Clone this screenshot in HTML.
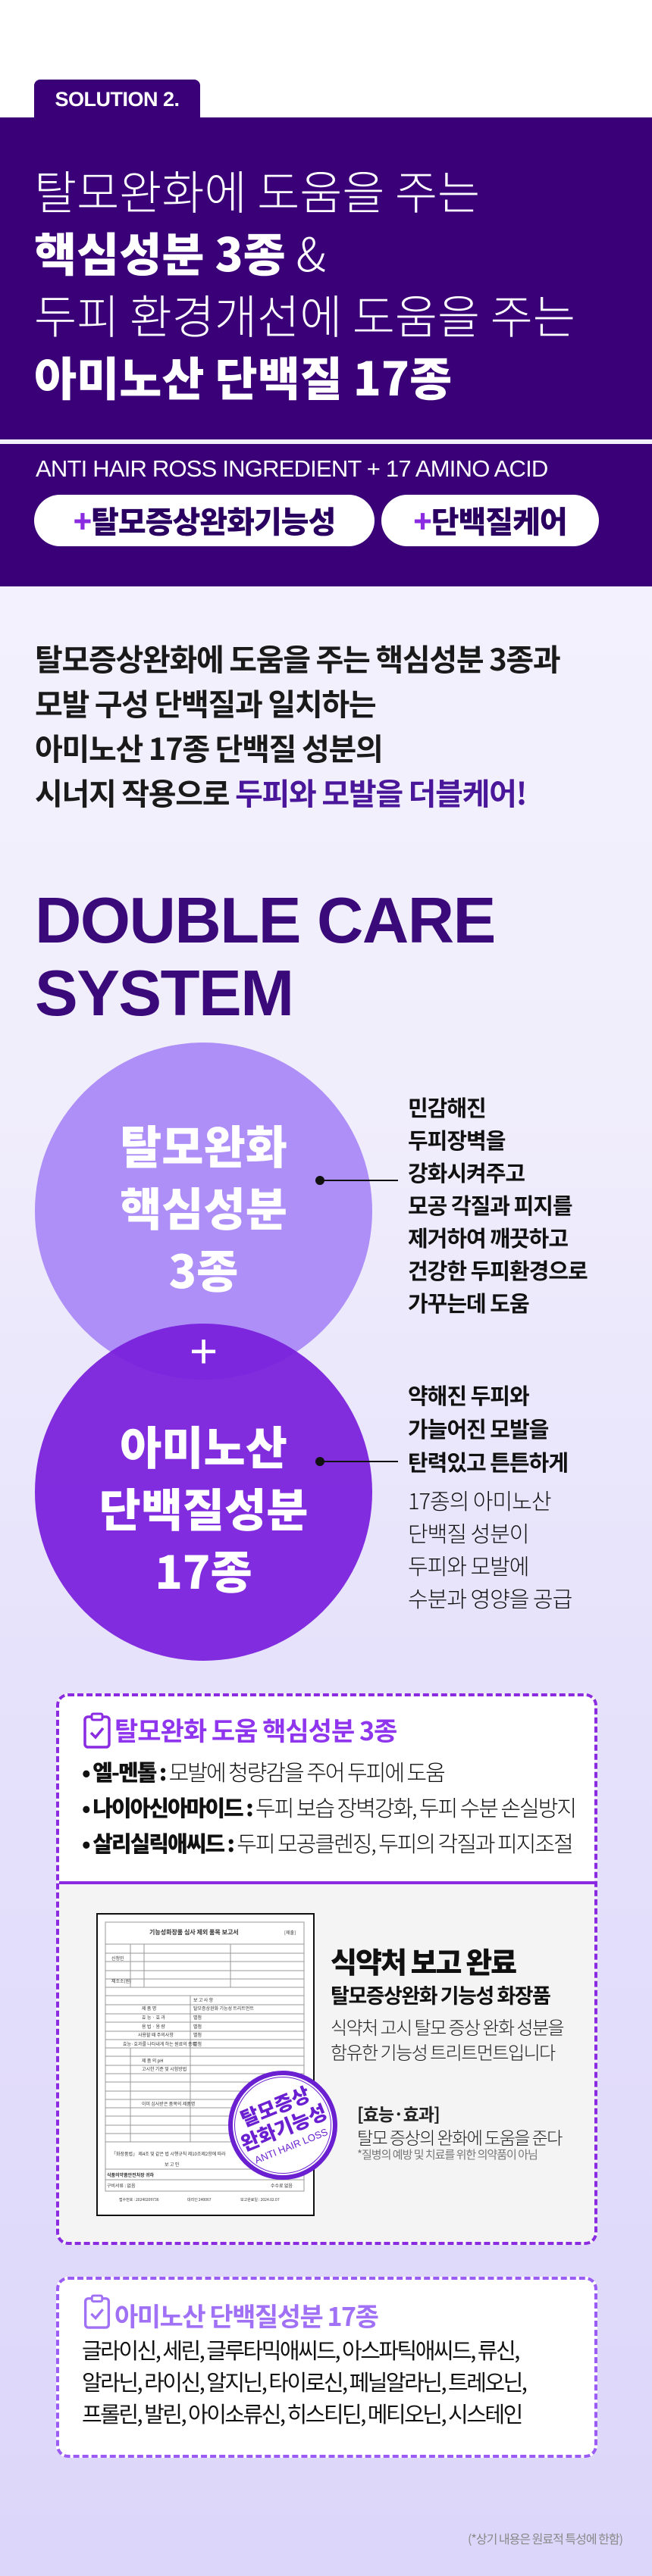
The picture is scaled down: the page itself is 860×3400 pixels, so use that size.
<!DOCTYPE html>
<html><head><meta charset="utf-8">
<style>
*{margin:0;padding:0;box-sizing:border-box}
body{width:860px;height:3400px;position:relative;overflow:hidden;font-family:"Liberation Sans","Noto Sans CJK KR",sans-serif;background:linear-gradient(180deg,#fff 0,#fff 155px,#f3f1fd 780px,#f1eefc 1400px,#e6e2fb 2200px,#dcd6fa 3400px)}
.a{position:absolute;white-space:nowrap}
.k{font-family:"Noto Sans CJK KR",sans-serif}
.band{left:0;top:155px;width:860px;height:619px;background:#3a0077}
.tab{left:45px;top:105px;width:219px;height:51px;background:#3a0077;border-radius:8px 8px 0 0;color:#fff;font-size:27px;font-weight:bold;line-height:53px;text-align:center;letter-spacing:-0.5px}
.h{left:45px;color:#fff;font-size:61px;line-height:82px;letter-spacing:0px}
.pill{top:653px;height:68px;background:#fff;border-radius:34px;color:#2a0060;font-size:40px;font-weight:900;line-height:66px;text-align:center;letter-spacing:-1px}
.pill b{color:#8a2be2}
.p{left:46px;font-size:40px;font-weight:bold;color:#1a1a1a;letter-spacing:-1.3px;line-height:59px}
.c{border-radius:50%;width:445px;height:445px;left:46px}
.ct{left:46px;width:445px;text-align:center;color:#fff;font-size:60px;font-weight:900;line-height:82px}
.r{left:538px;font-size:29px;color:#111;letter-spacing:-1px;line-height:43px}
.box{left:74px;width:714px;border:4px dashed #8a2be2;border-radius:16px}
</style></head><body>
<div class="a tab">SOLUTION 2.</div>
<div class="a band"></div>
<div class="a h k" style="top:209px;font-weight:300">탈모완화에 도움을 주는</div>
<div class="a h k" style="top:291px;font-weight:900">핵심성분 3종<span style="font-weight:300"> &amp;</span></div>
<div class="a h k" style="top:373px;font-weight:300">두피 환경개선에 도움을 주는</div>
<div class="a h k" style="top:455px;font-weight:900">아미노산 단백질 17종</div>
<div class="a" style="left:0;top:580px;width:860px;height:6px;background:#f2eefc"></div>
<div class="a" style="left:47px;top:601px;color:#fff;font-size:31px;font-weight:300;letter-spacing:-0.8px">ANTI HAIR ROSS INGREDIENT + 17 AMINO ACID</div>
<div class="a pill k" style="left:45px;width:449px"><b>+</b>탈모증상완화기능성</div>
<div class="a pill k" style="left:503px;width:287px"><b>+</b>단백질케어</div>

<div class="a p k" style="top:839px">탈모증상완화에 도움을 주는 핵심성분 3종과</div>
<div class="a p k" style="top:898px">모발 구성 단백질과 일치하는</div>
<div class="a p k" style="top:957px">아미노산 17종 단백질 성분의</div>
<div class="a p k" style="top:1016px">시너지 작용으로 <span style="color:#4a169a">두피와 모발을 더블케어!</span></div>

<div class="a" style="left:46px;top:1168px;font-size:85px;font-weight:bold;color:#3a0a7a;line-height:96px;letter-spacing:-1.5px">DOUBLE CARE<br>SYSTEM</div>

<div class="a c" style="top:1376px;background:#ae8ff7"></div>
<div class="a c" style="top:1747px;background:rgba(120,30,220,.93)"></div>
<div class="a ct k" style="top:1470px">탈모완화<br>핵심성분<br>3종</div>
<div class="a ct" style="top:1745px;font-weight:normal;font-size:64px;line-height:76px">+</div>
<div class="a ct k" style="top:1867px">아미노산<br>단백질성분<br>17종</div>

<div class="a" style="left:416px;top:1552px;width:12px;height:12px;border-radius:50%;background:#111"></div>
<div class="a" style="left:422px;top:1557px;width:103px;height:2px;background:#111"></div>
<div class="a" style="left:416px;top:1923px;width:12px;height:12px;border-radius:50%;background:#111"></div>
<div class="a" style="left:422px;top:1928px;width:103px;height:2px;background:#111"></div>

<div class="a r k" style="top:1440px;font-weight:bold">민감해진<br>두피장벽을<br>강화시켜주고<br>모공 각질과 피지를<br>제거하여 깨끗하고<br>건강한 두피환경으로<br>가꾸는데 도움</div>
<div class="a r k" style="top:1819px;font-weight:bold;line-height:44px">약해진 두피와<br>가늘어진 모발을<br>탄력있고 튼튼하게</div>
<div class="a r k" style="top:1959px;font-weight:300">17종의 아미노산<br>단백질 성분이<br>두피와 모발에<br>수분과 영양을 공급</div>

<div class="a box" style="top:2235px;height:728px;background:#f4f4f4;overflow:hidden">
 <div style="position:absolute;left:0;top:0;width:100%;height:248px;background:#fff;border-bottom:4px solid #8a2be2"></div>
</div>
<svg class="a" style="left:110px;top:2260px" width="36" height="48" viewBox="0 0 36 48"><rect x="2" y="6" width="32" height="40" rx="4" fill="none" stroke="#8a2be2" stroke-width="3.5"/><rect x="11" y="2" width="14" height="8" rx="2" fill="#fff" stroke="#8a2be2" stroke-width="3"/><path d="M10 27l6 6 10-12" fill="none" stroke="#8a2be2" stroke-width="3.5"/></svg>
<div class="a k" style="left:151px;top:2258px;font-size:34px;font-weight:bold;color:#8f35ee;letter-spacing:-1px">탈모완화 도움 핵심성분 3종</div>
<div class="a k" style="left:108px;top:2315px;font-size:29px;color:#111;letter-spacing:-2px;line-height:47px;font-weight:300"><b style="font-weight:900">• 엘-멘톨 :</b> 모발에 청량감을 주어 두피에 도움<br><b style="font-weight:900">• 나이아신아마이드 :</b> 두피 보습 장벽강화, 두피 수분 손실방지<br><b style="font-weight:900">• 살리실릭애씨드 :</b> 두피 모공클렌징, 두피의 각질과 피지조절</div>

<svg class="a" style="left:127px;top:2525px" width="288" height="400" viewBox="0 0 288 400">
<rect x="1" y="1" width="286" height="398" fill="#fff" stroke="#111" stroke-width="2"/>
<g stroke="#999" stroke-width="1" fill="none">
<rect x="12" y="12" width="262" height="355"/>
<path d="M12 41H274M12 53H274M12 64H274M12 76H274M12 87H274M12 98H274M12 109H274M12 121H274M12 133H274M12 144H274M12 156H274M12 167H274M12 178H274M12 189H274M12 201H274M12 212H274M12 223H274M12 235H274M12 246H274M12 257H274M12 268H274M12 280H274M12 291H274M12 302H274M12 338H274M12 352H274M45 41V98M63 41V98M177 41V98M124 109V302M45 178V302"/>
</g>
<g font-size="6" fill="#333" font-family="Noto Sans CJK KR,sans-serif">
<text x="70" y="28" font-size="8" font-weight="bold">기능성화장품 심사 제외 품목 보고서</text>
<text x="248" y="28">[제출]</text>
<text x="20" y="62">신청인</text><text x="20" y="92">제조소(원)</text>
<text x="128" y="117">보 고 사 항</text>
<text x="60" y="128">제 품 명</text><text x="60" y="140">효 능 · 효 과</text><text x="60" y="152">용 법 · 용 량</text><text x="55" y="163">사용할 때 주의사항</text><text x="35" y="175">효능·효과를 나타내게 하는 원료의 종류</text>
<text x="128" y="128">탈모증상완화 기능성 트리트먼트</text><text x="128" y="140">별첨</text><text x="128" y="152">별첨</text><text x="128" y="163">별첨</text><text x="128" y="175">별첨</text>
<text x="60" y="197">제 품 의 pH</text><text x="60" y="208">고시한 기준 및 시험방법</text><text x="60" y="254">이미 심사받은 품목의 제품명</text>
<text x="20" y="320">「화장품법」 제4조 및 같은 법 시행규칙 제10조제2항에 따라</text>
<text x="90" y="334">보 고 인</text>
<text x="14" y="348" font-weight="bold">식품의약품안전처장 귀하</text>
<text x="14" y="362">구비서류 : 없음</text><text x="230" y="362">수수료 없음</text>
<text x="30" y="380" font-size="5">접수번호 : 20240209736</text><text x="120" y="380" font-size="5">대리인 240067</text><text x="190" y="380" font-size="5">보고완료일 : 2024.02.07</text>
</g></svg>
<div class="a" style="left:301px;top:2733px;width:144px;height:144px;border-radius:50%;background:#fff;border:6px solid #6a1fd0"></div>
<div class="a" style="left:309px;top:2741px;width:128px;height:128px;border-radius:50%;border:1.5px solid #6a1fd0"></div>
<div class="a k" style="left:301px;top:2733px;width:144px;height:144px;transform:rotate(-22deg);text-align:center;color:#6a1fd0">
 <div style="font-size:26px;font-weight:900;line-height:30px;padding-top:30px">탈모증상<br>완화기능성</div>
 <div style="font-size:13px;font-family:'Liberation Sans';margin-top:4px">ANTI HAIR LOSS</div>
</div>
<div class="a k" style="left:436px;top:2560px;font-size:38px;font-weight:900;color:#111;letter-spacing:-2px">식약처 보고 완료</div>
<div class="a k" style="left:436px;top:2613px;font-size:27px;font-weight:bold;color:#111;letter-spacing:-1.5px">탈모증상완화 기능성 화장품</div>
<div class="a k" style="left:436px;top:2658px;font-size:24px;font-weight:300;color:#222;letter-spacing:-1.5px;line-height:33px">식약처 고시 탈모 증상 완화 성분을<br>함유한 기능성 트리트먼트입니다</div>
<div class="a k" style="left:471px;top:2772px;font-size:23px;font-weight:bold;color:#222;letter-spacing:-1px">[효능·효과]</div>
<div class="a k" style="left:471px;top:2803px;font-size:23px;font-weight:300;color:#222;letter-spacing:-1.5px">탈모 증상의 완화에 도움을 준다</div>
<div class="a k" style="left:471px;top:2833px;font-size:15px;color:#777;letter-spacing:-1px">*질병의 예방 및 치료를 위한 의약품이 아님</div>

<div class="a box" style="top:3005px;height:239px;background:#fff;border-color:#9a5cf5"></div>
<svg class="a" style="left:110px;top:3028px" width="36" height="46" viewBox="0 0 36 48"><rect x="2" y="6" width="32" height="40" rx="4" fill="none" stroke="#a070f5" stroke-width="3.5"/><rect x="11" y="2" width="14" height="8" rx="2" fill="#fff" stroke="#a070f5" stroke-width="3"/><path d="M10 27l6 6 10-12" fill="none" stroke="#a070f5" stroke-width="3.5"/></svg>
<div class="a k" style="left:151px;top:3031px;font-size:34px;font-weight:bold;color:#a070f5;letter-spacing:-1.5px">아미노산 단백질성분 17종</div>
<div class="a k" style="left:108px;top:3080px;font-size:29px;color:#111;letter-spacing:-2.5px;line-height:42px">글라이신, 세린, 글루타믹애씨드, 아스파틱애씨드, 류신,<br>알라닌, 라이신, 알지닌, 타이로신, 페닐알라닌, 트레오닌,<br>프롤린, 발린, 아이소류신, 히스티딘, 메티오닌, 시스테인</div>
<div class="a k" style="left:617px;top:3338px;font-size:16px;color:#888;letter-spacing:-1px">(*상기 내용은 원료적 특성에 한함)</div>
</body></html>
